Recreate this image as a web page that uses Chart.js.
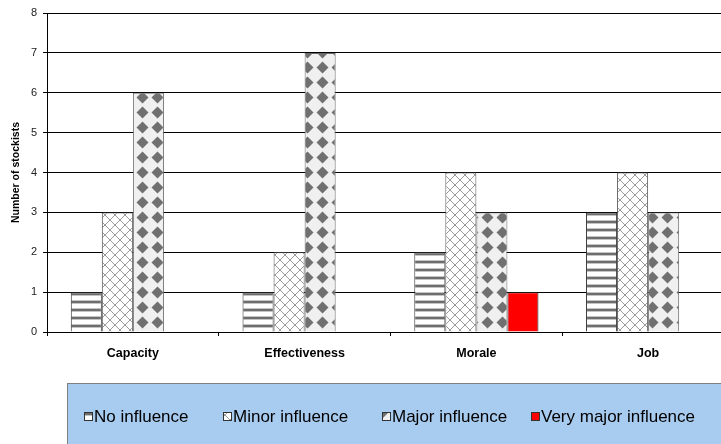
<!DOCTYPE html>
<html>
<head>
<meta charset="utf-8">
<script src="https://cdn.jsdelivr.net/npm/chart.js@4/dist/chart.umd.min.js"></script>
<style>
  html, body { margin: 0; padding: 0; overflow: hidden; background: #fff; width: 721px; height: 444px; }
  canvas { display: block; }
</style>
</head>
<body>
<canvas id="c" width="740" height="444"></canvas>
<script>
// Stockists' responses per aspect
const categories = ['Capacity', 'Effectiveness', 'Morale', 'Job'];
const seriesNames = ['No influence', 'Minor influence', 'Major influence', 'Very major influence'];
const noInfluence = [1, 1, 2, 3];
const minorInfluence = [3, 2, 4, 4];
const majorInfluence = [6, 7, 3, 3];
const veryMajorInfluence = [0, 0, 1, 0];
const yTicks = [0, 1, 2, 3, 4, 5, 6, 7, 8];
const yTitle = 'Number of stockists';

const canvas = document.getElementById('c');
const ctx = canvas.getContext('2d');

function makePattern(w, h, paint) {
  const t = document.createElement('canvas');
  t.width = w; t.height = h;
  paint(t.getContext('2d'), w, h);
  return ctx.createPattern(t, 'repeat');
}

// horizontal stripes
const stripes = makePattern(8, 8, (g, w, h) => {
  g.fillStyle = '#ffffff'; g.fillRect(0, 0, w, h);
  g.fillStyle = '#c4c4c4'; g.fillRect(0, 4, w, 1); g.fillRect(0, 7, w, 1);
  g.fillStyle = '#6e6e6e'; g.fillRect(0, 5, w, 2);
});
// diagonal cross-hatch
const hatch = makePattern(10, 10, (g, w, h) => {
  g.fillStyle = '#ffffff'; g.fillRect(0, 0, w, h);
  g.strokeStyle = '#9a9a9a'; g.lineWidth = 1;
  g.beginPath();
  g.moveTo(-1, -1); g.lineTo(w + 1, h + 1);
  g.moveTo(w + 1, -1); g.lineTo(-1, h + 1);
  g.stroke();
});
// diamonds on light grey
const diamonds = makePattern(15, 15, (g, w, h) => {
  g.fillStyle = '#f0f0f0'; g.fillRect(0, 0, w, h);
  g.fillStyle = '#707070';
  const cx = w / 2, cy = h / 2, r = 6;
  g.beginPath();
  g.moveTo(cx, cy - r); g.lineTo(cx + r, cy); g.lineTo(cx, cy + r); g.lineTo(cx - r, cy);
  g.closePath(); g.fill();
});

const fills = [stripes, hatch, diamonds, '#ff0000'];
const borders = ['#333333', '#555555', '#6a6a6a', '#222222'];
const values = [noInfluence, minorInfluence, majorInfluence, veryMajorInfluence];

const datasets = seriesNames.map((name, i) => ({
  label: name,
  data: values[i],
  backgroundColor: fills[i],
  borderColor: borders[i],
  borderWidth: 1,
  borderSkipped: 'bottom',
  categoryPercentage: 0.723,
  barPercentage: 1.0
}));

// legend panel below the plot
const legendPanel = {
  id: 'legendPanel',
  afterDraw(chart) {
    const c = chart.ctx;
    c.save();
    c.fillStyle = '#a8cbf0';
    c.fillRect(67, 383, 700, 80);
    c.strokeStyle = '#7f7f7f';
    c.lineWidth = 1;
    c.strokeRect(67.5, 383.5, 700, 80);
    const iconX = [84, 223, 382, 531];
    c.font = '17px "Liberation Sans", Arial, sans-serif';
    c.textBaseline = 'middle';
    c.fillStyle = '#000';
    seriesNames.forEach((name, i) => {
      const x = iconX[i], y = 412;
      c.fillStyle = fills[i];
      c.fillRect(x, y, 9, 9);
      c.strokeStyle = '#333';
      c.strokeRect(x + 0.5, y + 0.5, 8, 8);
      c.fillStyle = '#000';
      c.fillText(name, x + 10, 417);
    });
    c.restore();
  }
};

new Chart(ctx, {
  type: 'bar',
  data: { labels: categories, datasets },
  options: {
    responsive: false,
    animation: false,
    layout: { padding: { top: 13, right: 6, bottom: 0, left: 0 } },
    plugins: { legend: { display: false }, tooltip: { enabled: false } },
    scales: {
      x: {
        afterFit(scale) { scale.height = 112; },
        grid: { display: true, drawOnChartArea: false, drawTicks: true, tickLength: 4, offset: true, color: '#000' },
        border: { display: true, color: '#000', width: 1 },
        ticks: { color: '#000', padding: 10, font: { family: '"Liberation Sans", Arial, sans-serif', size: 12.5, weight: 'bold' } }
      },
      y: {
        min: yTicks[0],
        max: yTicks[yTicks.length - 1],
        afterFit(scale) { scale.width = 47; },
        afterBuildTicks(scale) { scale.ticks = yTicks.map(v => ({ value: v })); },
        grid: { color: '#000', lineWidth: 1, drawTicks: true, tickLength: 4 },
        border: { display: true, color: '#000', width: 1 },
        ticks: { color: '#222', padding: 6, font: { family: '"Liberation Sans", Arial, sans-serif', size: 11 } },
        title: {
          display: true,
          text: yTitle,
          color: '#000',
          padding: { top: 10, bottom: 0 },
          font: { family: '"Liberation Sans", Arial, sans-serif', size: 10.5, weight: 'bold' }
        }
      }
    }
  },
  plugins: [legendPanel]
});
</script>
</body>
</html>
